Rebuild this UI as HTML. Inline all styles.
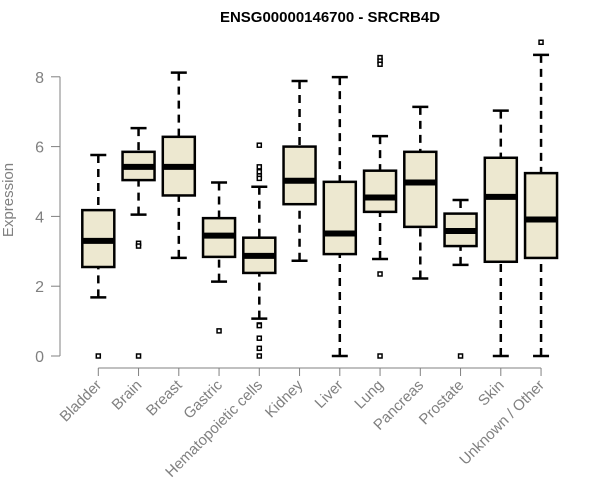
<!DOCTYPE html>
<html><head><meta charset="utf-8"><style>body{margin:0;background:#fff}svg{display:block}</style></head>
<body>
<svg id="chart" width="600" height="500" xmlns="http://www.w3.org/2000/svg" font-family="Liberation Sans, sans-serif">
<text x="330" y="22" text-anchor="middle" font-size="15" font-weight="bold">ENSG00000146700 - SRCRB4D</text>
<text transform="translate(13,200) rotate(-90)" text-anchor="middle" font-size="15" fill="#808080">Expression</text>
<g id="axes"></g>
<g id="boxes"></g>
</svg>
<script>
const categories=["Bladder","Brain","Breast","Gastric","Hematopoietic cells","Kidney","Liver","Lung","Pancreas","Prostate","Skin","Unknown / Other"];
const whiskerLow=[1.68,4.05,2.81,2.13,1.07,2.73,0,2.78,2.22,2.61,0,0];
const q1=[2.55,5.04,4.60,2.84,2.38,4.35,2.92,4.13,3.70,3.15,2.70,2.81];
const medians=[3.30,5.42,5.42,3.45,2.87,5.02,3.51,4.54,4.97,3.58,4.56,3.91];
const q3=[4.18,5.85,6.28,3.95,3.39,6.00,4.99,5.31,5.85,4.08,5.68,5.24];
const whiskerHigh=[5.76,6.53,8.12,4.97,4.85,7.88,7.99,6.30,7.14,4.47,7.03,8.63];
const outliers=[[0],[3.23,3.15,0],[],[0.72],[6.04,5.42,5.28,5.16,5.09,0.89,0.87,0.51,0.22,0],[],[],[8.55,8.45,8.36,2.35,0],[],[0],[],[8.99]];
const yTicks=[0,2,4,6,8];
const NS="http://www.w3.org/2000/svg";
const x=i=>98.3+i*40.25;
const y=v=>356-v*34.9;
function mk(tag,attrs,parent){const e=document.createElementNS(NS,tag);for(const k in attrs)e.setAttribute(k,attrs[k]);parent.appendChild(e);return e;}
const axes=document.getElementById('axes'),boxes=document.getElementById('boxes');
let a=mk('line',{x1:60,x2:60,y1:y(8),y2:y(0),stroke:'#808080'},axes);


yTicks.forEach(t=>{
 let l=mk('line',{x1:51,x2:60,y1:y(t),y2:y(t),stroke:'#808080'},axes);
 
 
 let tx=mk('text',{x:44,y:y(t)+6,'text-anchor':'end','font-size':16,fill:'#808080'},axes);
 tx.textContent=t;
 
 
});
let xa=mk('line',{x1:x(0),x2:x(categories.length-1),y1:368,y2:368,stroke:'#808080'},axes);


categories.forEach((c,i)=>{
 let l=mk('line',{x1:x(i),x2:x(i),y1:368,y2:376,stroke:'#808080'},axes);
 
 
 let tx=mk('text',{transform:`translate(${x(i)+4},${386}) rotate(-45)`,'text-anchor':'end','font-size':15,fill:'#808080'},axes);
 tx.textContent=c;
 
 
 const g=mk('g',{},boxes);
 
 
 const cx=x(i),w=16;
 mk('line',{x1:cx,x2:cx,y1:y(whiskerLow[i]),y2:y(q1[i]),stroke:'#000','stroke-width':2.5,'stroke-dasharray':'8,6'},g);
 mk('line',{x1:cx,x2:cx,y1:y(whiskerHigh[i]),y2:y(q3[i]),stroke:'#000','stroke-width':2.5,'stroke-dasharray':'8,6'},g);
 mk('line',{x1:cx-8,x2:cx+8,y1:y(whiskerLow[i]),y2:y(whiskerLow[i]),stroke:'#000','stroke-width':2.5},g);
 mk('line',{x1:cx-8,x2:cx+8,y1:y(whiskerHigh[i]),y2:y(whiskerHigh[i]),stroke:'#000','stroke-width':2.5},g);
 mk('rect',{x:cx-w,y:y(q3[i]),width:2*w,height:y(q1[i])-y(q3[i]),fill:'#ede8d0',stroke:'#000','stroke-width':2.5},g);
 mk('line',{x1:cx-w,x2:cx+w,y1:y(medians[i]),y2:y(medians[i]),stroke:'#000','stroke-width':6},g);
 outliers[i].forEach(v=>{
  let o=mk('rect',{x:cx-2,y:y(v)-2,width:4,height:4,fill:'#fff',stroke:'#000','stroke-width':1.5},g);
  
  
 });
});
</script>
</body></html>
